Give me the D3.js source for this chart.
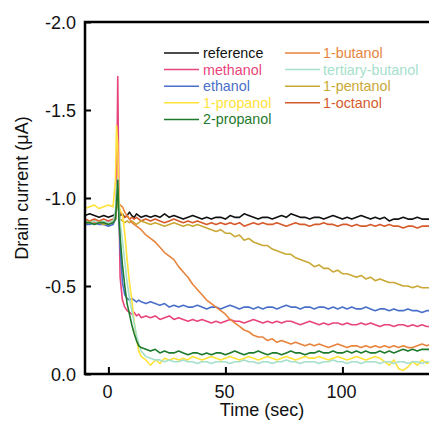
<!DOCTYPE html>
<html><head><meta charset="utf-8">
<script src="https://cdn.jsdelivr.net/npm/d3@7"></script>
<style>body{margin:0;background:#fff}svg{display:block}text{font-family:"Liberation Sans",Arial,sans-serif}</style>
</head><body><svg id="c" width="429" height="423"></svg>
<script>
// time axis (sec)
const time = [-10,-8,-6,-4,-2,0,2,3,3.5,4,4.5,5,6,7,8,9,10,11,12,13,14,
16,18,20,22,24,26,28,30,32,34,36,38,40,42,44,46,48,50,52,54,56,58,60,62,64,66,68,70,72,74,76,78,80,82,84,86,88,90,92,94,96,98,100,102,104,106,108,110,112,114,116,118,120,122,124,126,128,130,132,134,136,138];

const seriesNames = ["reference","methanol","ethanol","1-propanol","2-propanol","1-butanol","tertiary-butanol","1-pentanol","1-octanol"];
const seriesColors = ["#111111","#e8457c","#4a6fca","#ffe23a","#1e7a2c","#e8843c","#a6dfcb","#c9a835","#d65a2a"];

const reference = [-0.90,-0.91,-0.90,-0.89,-0.90,-0.89,-0.90,-0.91,-0.95,-1.00,-0.93,-0.90,-0.91,-0.89,-0.90,-0.92,-0.90,-0.89,-0.91,-0.90,-0.89,
-0.90,-0.89,-0.90,-0.89,-0.91,-0.89,-0.90,-0.89,-0.88,-0.89,-0.90,-0.89,-0.88,-0.89,-0.88,-0.89,-0.89,-0.88,-0.90,-0.89,-0.89,-0.91,-0.90,-0.89,-0.88,-0.89,-0.89,-0.88,-0.89,-0.90,-0.89,-0.91,-0.90,-0.89,-0.89,-0.88,-0.89,-0.89,-0.88,-0.89,-0.90,-0.89,-0.88,-0.89,-0.88,-0.89,-0.90,-0.89,-0.88,-0.89,-0.88,-0.89,-0.87,-0.88,-0.88,-0.89,-0.88,-0.88,-0.89,-0.88,-0.88,-0.88];
const methanol = [-0.86,-0.86,-0.87,-0.86,-0.86,-0.87,-0.86,-0.88,-1.05,-1.69,-1.00,-0.55,-0.42,-0.38,-0.36,-0.35,-0.34,-0.35,-0.33,-0.34,-0.32,
-0.33,-0.32,-0.33,-0.31,-0.32,-0.33,-0.31,-0.32,-0.31,-0.30,-0.31,-0.30,-0.31,-0.30,-0.29,-0.30,-0.29,-0.30,-0.31,-0.30,-0.30,-0.29,-0.30,-0.31,-0.30,-0.29,-0.30,-0.29,-0.30,-0.29,-0.30,-0.30,-0.29,-0.28,-0.29,-0.30,-0.29,-0.28,-0.29,-0.28,-0.29,-0.29,-0.28,-0.29,-0.28,-0.28,-0.29,-0.28,-0.29,-0.28,-0.27,-0.28,-0.28,-0.27,-0.28,-0.28,-0.27,-0.28,-0.27,-0.28,-0.27,-0.27];
const ethanol = [-0.85,-0.85,-0.86,-0.85,-0.85,-0.84,-0.85,-0.88,-0.98,-1.05,-0.90,-0.72,-0.52,-0.45,-0.43,-0.42,-0.43,-0.42,-0.41,-0.42,-0.41,
-0.40,-0.41,-0.40,-0.39,-0.40,-0.38,-0.39,-0.38,-0.39,-0.38,-0.38,-0.39,-0.38,-0.37,-0.38,-0.38,-0.37,-0.38,-0.39,-0.38,-0.37,-0.38,-0.38,-0.37,-0.38,-0.37,-0.38,-0.38,-0.37,-0.38,-0.39,-0.38,-0.38,-0.37,-0.38,-0.38,-0.37,-0.38,-0.38,-0.37,-0.38,-0.37,-0.38,-0.37,-0.38,-0.37,-0.37,-0.38,-0.37,-0.36,-0.37,-0.37,-0.36,-0.37,-0.36,-0.36,-0.37,-0.36,-0.36,-0.35,-0.36,-0.36];
const propanol1 = [-0.94,-0.95,-0.96,-0.94,-0.95,-0.96,-0.95,-1.10,-1.41,-1.30,-0.98,-0.93,-0.91,-0.80,-0.65,-0.52,-0.42,-0.30,-0.20,-0.13,-0.10,
-0.08,-0.05,-0.08,-0.06,-0.09,-0.08,-0.09,-0.08,-0.09,-0.08,-0.10,-0.09,-0.08,-0.09,-0.10,-0.09,-0.08,-0.09,-0.10,-0.09,-0.08,-0.09,-0.10,-0.09,-0.08,-0.09,-0.10,-0.09,-0.08,-0.09,-0.10,-0.09,-0.08,-0.09,-0.10,-0.09,-0.09,-0.10,-0.09,-0.08,-0.09,-0.10,-0.09,-0.08,-0.09,-0.10,-0.09,-0.08,-0.09,-0.10,-0.09,-0.07,-0.05,-0.08,-0.03,-0.02,-0.04,-0.07,-0.05,-0.08,-0.06,-0.07];
const propanol2 = [-0.86,-0.86,-0.85,-0.86,-0.86,-0.85,-0.86,-0.88,-0.98,-1.10,-0.88,-0.78,-0.62,-0.50,-0.40,-0.34,-0.28,-0.23,-0.19,-0.16,-0.15,
-0.14,-0.13,-0.14,-0.12,-0.13,-0.12,-0.12,-0.13,-0.12,-0.11,-0.12,-0.12,-0.11,-0.12,-0.11,-0.12,-0.12,-0.11,-0.12,-0.13,-0.12,-0.11,-0.12,-0.12,-0.13,-0.12,-0.11,-0.12,-0.12,-0.11,-0.12,-0.13,-0.12,-0.12,-0.11,-0.12,-0.12,-0.13,-0.12,-0.12,-0.13,-0.12,-0.12,-0.13,-0.12,-0.13,-0.12,-0.13,-0.12,-0.12,-0.13,-0.12,-0.13,-0.12,-0.13,-0.14,-0.13,-0.14,-0.13,-0.14,-0.14,-0.14];
const butanol1 = [-0.86,-0.87,-0.86,-0.87,-0.86,-0.86,-0.87,-0.88,-0.95,-1.00,-0.97,-0.96,-0.95,-0.92,-0.90,-0.88,-0.86,-0.85,-0.84,-0.83,-0.82,
-0.79,-0.77,-0.75,-0.72,-0.69,-0.67,-0.65,-0.61,-0.58,-0.55,-0.51,-0.48,-0.45,-0.42,-0.40,-0.38,-0.36,-0.34,-0.31,-0.29,-0.27,-0.25,-0.24,-0.22,-0.21,-0.21,-0.19,-0.20,-0.18,-0.19,-0.18,-0.17,-0.18,-0.17,-0.16,-0.17,-0.16,-0.17,-0.16,-0.15,-0.16,-0.17,-0.16,-0.15,-0.16,-0.16,-0.15,-0.16,-0.15,-0.16,-0.15,-0.16,-0.15,-0.16,-0.15,-0.16,-0.15,-0.15,-0.16,-0.17,-0.16,-0.17];
const tertButanol = [-0.87,-0.86,-0.87,-0.86,-0.87,-0.86,-0.87,-0.92,-1.05,-1.11,-0.95,-0.86,-0.76,-0.64,-0.52,-0.43,-0.36,-0.29,-0.22,-0.17,-0.13,
-0.10,-0.09,-0.08,-0.08,-0.07,-0.08,-0.07,-0.07,-0.08,-0.07,-0.07,-0.06,-0.07,-0.07,-0.06,-0.07,-0.07,-0.07,-0.06,-0.07,-0.07,-0.08,-0.07,-0.07,-0.06,-0.07,-0.07,-0.06,-0.07,-0.07,-0.08,-0.07,-0.07,-0.06,-0.07,-0.07,-0.07,-0.06,-0.07,-0.07,-0.08,-0.07,-0.07,-0.06,-0.07,-0.07,-0.06,-0.07,-0.07,-0.07,-0.06,-0.07,-0.07,-0.06,-0.07,-0.07,-0.06,-0.07,-0.07,-0.06,-0.07,-0.07];
const pentanol1 = [-0.86,-0.86,-0.87,-0.86,-0.85,-0.86,-0.86,-0.88,-0.94,-1.00,-0.92,-0.88,-0.87,-0.86,-0.87,-0.86,-0.87,-0.86,-0.85,-0.86,-0.87,
-0.86,-0.85,-0.86,-0.85,-0.84,-0.85,-0.86,-0.85,-0.84,-0.85,-0.84,-0.85,-0.84,-0.83,-0.82,-0.81,-0.82,-0.80,-0.80,-0.78,-0.79,-0.76,-0.77,-0.75,-0.74,-0.73,-0.73,-0.71,-0.70,-0.69,-0.68,-0.68,-0.66,-0.65,-0.64,-0.63,-0.61,-0.62,-0.60,-0.60,-0.58,-0.59,-0.57,-0.57,-0.56,-0.55,-0.56,-0.54,-0.55,-0.53,-0.54,-0.53,-0.52,-0.52,-0.51,-0.50,-0.50,-0.49,-0.50,-0.49,-0.49,-0.49];
const octanol1 = [-0.88,-0.87,-0.88,-0.87,-0.88,-0.87,-0.88,-0.90,-0.96,-1.02,-0.95,-0.92,-0.90,-0.89,-0.90,-0.88,-0.89,-0.88,-0.89,-0.88,-0.87,
-0.88,-0.87,-0.88,-0.87,-0.86,-0.87,-0.88,-0.87,-0.86,-0.87,-0.86,-0.87,-0.86,-0.85,-0.86,-0.85,-0.86,-0.85,-0.86,-0.85,-0.86,-0.84,-0.85,-0.86,-0.85,-0.86,-0.85,-0.85,-0.86,-0.85,-0.84,-0.85,-0.86,-0.85,-0.85,-0.84,-0.85,-0.85,-0.86,-0.85,-0.85,-0.84,-0.85,-0.85,-0.84,-0.85,-0.84,-0.84,-0.85,-0.84,-0.85,-0.84,-0.85,-0.84,-0.84,-0.83,-0.84,-0.84,-0.83,-0.84,-0.84,-0.84];

const seriesValues = [reference,methanol,ethanol,propanol1,propanol2,butanol1,tertButanol,pentanol1,octanol1];
const xTicks = [0,50,100];
const yTicks = [0,-0.5,-1.0,-1.5,-2.0];

const svg = d3.select("#c");
const L = 85, R = 429, T = 22, B = 374;
const x = d3.scaleLinear().domain([-10, 137]).range([L, R]);
const y = d3.scaleLinear().domain([0, -2]).range([B, T]);

svg.append("defs").append("clipPath").attr("id","clip")
  .append("rect").attr("x",L).attr("y",T).attr("width",R-L).attr("height",B-T);

const line = d3.line().x(d=>x(d[0])).y(d=>y(d[1]));
const order = [0,8,1,2,7,5,3,6,4];
const g = svg.append("g").attr("clip-path","url(#clip)");
order.forEach(i=>{
  const pts = seriesValues[i].map((v,k)=>[time[k], v]);
  g.append("path").datum(pts).attr("d",line)
    .attr("fill","none").attr("stroke",seriesColors[i]).attr("stroke-width",1.6)
    .attr("stroke-linejoin","round");
});

// axes
const FS = 18;
const yAx = svg.append("g").attr("transform",`translate(${L},0)`)
  .call(d3.axisRight(y).tickValues(yTicks).tickSize(6).tickFormat(""));
yAx.select(".domain").remove();
yAx.selectAll("line").attr("stroke","#000").attr("stroke-width",2);
yTicks.forEach(v=>{
  svg.append("text").attr("x",L-9).attr("y",y(v)+6.5).attr("text-anchor","end")
    .attr("font-size",FS).attr("fill","#111").text(v===0?"0.0":v.toFixed(1));
});
const xAx = svg.append("g").attr("transform",`translate(0,${B})`)
  .call(d3.axisTop(x).tickValues(xTicks).tickSize(7).tickFormat(""));
xAx.select(".domain").remove();
xAx.selectAll("line").attr("stroke","#000").attr("stroke-width",2);
xTicks.forEach(v=>{
  svg.append("text").attr("x",x(v)-1).attr("y",B+24).attr("text-anchor","middle")
    .attr("font-size",FS).attr("fill","#111").text(v);
});
// frame
svg.append("path").attr("d",`M${R},${T}H${L}V${B}H${R}`).attr("fill","none")
  .attr("stroke","#000").attr("stroke-width",2.5);

svg.append("text").attr("x",262).attr("y",416).attr("text-anchor","middle")
  .attr("font-size",FS).attr("fill","#111").text("Time (sec)");
svg.append("text").attr("transform",`translate(28,188) rotate(-90)`)
  .attr("text-anchor","middle").attr("font-size",FS).attr("fill","#111").text("Drain current (μA)");

// legend
const legCols = [{lx:164,tx:203},{lx:285,tx:323}];
seriesNames.forEach((n,i)=>{
  const col = i<5?0:1, row = i<5?i:i-5;
  const yy = 53 + row*16.6;
  const c = legCols[col];
  svg.append("line").attr("x1",c.lx).attr("x2",c.lx+35).attr("y1",yy).attr("y2",yy)
    .attr("stroke",seriesColors[i]).attr("stroke-width",1.5);
  svg.append("text").attr("x",c.tx).attr("y",yy+5).attr("font-size",14.3)
    .attr("fill",seriesColors[i]).text(n);
});
</script></body></html>
